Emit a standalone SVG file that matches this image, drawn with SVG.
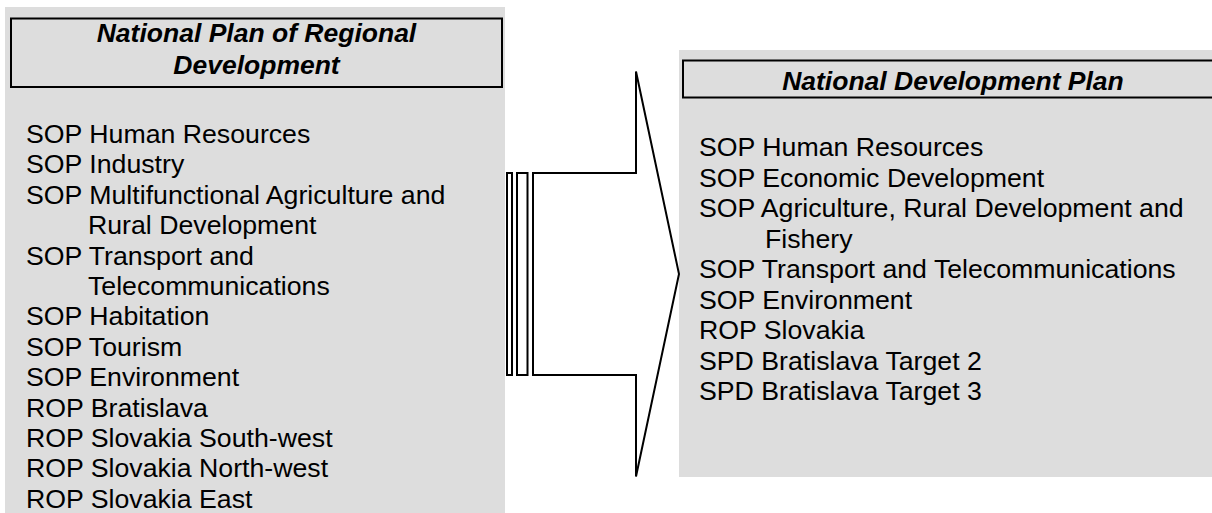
<svg xmlns="http://www.w3.org/2000/svg" width="1212" height="513" viewBox="0 0 1212 513">
<style>
.panel{fill:#dddddd;stroke:none}
.hdr{fill:none;stroke:#000;stroke-width:2}
.ttl{font-family:"Liberation Sans",Arial,sans-serif;font-size:26.5px;font-weight:bold;font-style:italic;fill:#000;text-anchor:middle}
.itm{font-family:"Liberation Sans",Arial,sans-serif;font-size:26.7px;fill:#000}
.arr{fill:#fff;stroke:#000;stroke-width:2;stroke-linejoin:miter}
</style>
<rect width="1212" height="513" fill="#fff"/>
<g id="nprd">
<rect class="panel" x="5" y="7" width="500" height="510"/>
<rect class="hdr" x="11" y="18.5" width="491" height="68.5"/>
<text class="ttl" x="256.5" y="41.5">National Plan of Regional</text>
<text class="ttl" x="256.5" y="73.5">Development</text>
<text class="itm" x="26" y="143">SOP Human Resources</text>
<text class="itm" x="26" y="173.4">SOP Industry</text>
<text class="itm" x="26" y="203.8">SOP Multifunctional Agriculture and</text>
<text class="itm" x="88" y="234.2">Rural Development</text>
<text class="itm" x="26" y="264.6">SOP Transport and</text>
<text class="itm" x="88" y="295">Telecommunications</text>
<text class="itm" x="26" y="325.4">SOP Habitation</text>
<text class="itm" x="26" y="355.8">SOP Tourism</text>
<text class="itm" x="26" y="386.2">SOP Environment</text>
<text class="itm" x="26" y="416.6">ROP Bratislava</text>
<text class="itm" x="26" y="447">ROP Slovakia South-west</text>
<text class="itm" x="26" y="477.4">ROP Slovakia North-west</text>
<text class="itm" x="26" y="507.8">ROP Slovakia East</text>
</g>
<g id="ndp">
<rect class="panel" x="679" y="50" width="540" height="427"/>
<rect class="hdr" x="683" y="60.5" width="540" height="37"/>
<text class="ttl" x="953" y="89.5">National Development Plan</text>
<text class="itm" x="699" y="156">SOP Human Resources</text>
<text class="itm" x="699" y="186.5">SOP Economic Development</text>
<text class="itm" x="699" y="217">SOP Agriculture, Rural Development and</text>
<text class="itm" x="765" y="247.5">Fishery</text>
<text class="itm" x="699" y="278">SOP Transport and Telecommunications</text>
<text class="itm" x="699" y="308.5">SOP Environment</text>
<text class="itm" x="699" y="339">ROP Slovakia</text>
<text class="itm" x="699" y="369.5">SPD Bratislava Target 2</text>
<text class="itm" x="699" y="400">SPD Bratislava Target 3</text>
</g>
<g id="connectors">
<rect class="arr" x="507" y="173" width="5" height="202"/>
<rect class="arr" x="517" y="173" width="10.5" height="202"/>
<path class="arr" d="M533 173 H636 V71.5 L679 274 L636 476.5 V375 H533 Z"/>
</g>
</svg>
